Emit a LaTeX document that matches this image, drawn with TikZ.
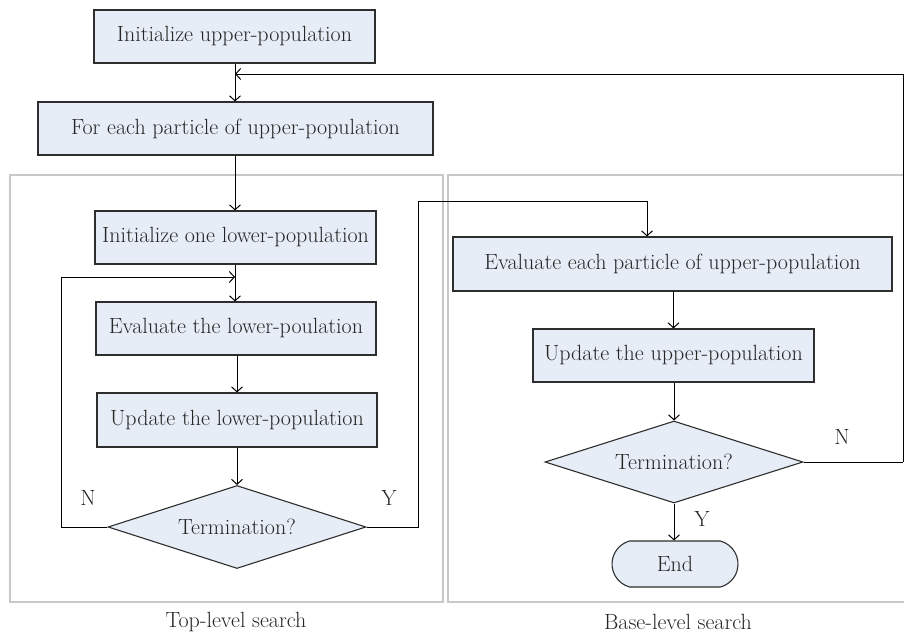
\documentclass[tikz,border=0pt]{standalone}
\usetikzlibrary{arrows.meta,shapes.geometric,shapes.misc}
\definecolor{boxfill}{HTML}{E6EDF6}
\definecolor{boxline}{HTML}{2E2E2E}
\definecolor{framegray}{HTML}{C8C8C8}
\definecolor{txt}{HTML}{262626}
\begin{document}
\begin{tikzpicture}[x=1pt,y=-1pt,
  every node/.style={font=\fontsize{22}{24}\selectfont, text=txt},
  procbox/.style={draw=boxline, fill=boxfill, line width=1.1pt, rectangle, inner sep=0pt},
  decbox/.style={draw=boxline, fill=boxfill, line width=1.1pt, diamond, aspect=3.1, inner sep=0pt},
  endbox/.style={draw=boxline, fill=boxfill, line width=1.1pt, rounded rectangle, rounded rectangle arc length=150, inner sep=0pt},
  conn/.style={draw=black, line width=1pt},
  arr/.style={conn, -{Straight Barb[length=5pt,width=11pt,line width=1pt]}},
  frame/.style={draw=framegray, line width=1.4pt},
  lbl/.style={inner sep=0pt}
]
\useasboundingbox (0,0) rectangle (904,635);
% frames
\draw[frame] (10,175) rectangle (443,602);
\draw[frame] (904,175) -- (448,175) -- (448,602) -- (904,602);
% nodes
\node[procbox, minimum width=281pt, minimum height=53pt] (b1) at (234.5,36.5) {Initialize upper-population};
\node[procbox, minimum width=395pt, minimum height=53pt] (b2) at (235.5,128.5) {For each particle of upper-population};
\node[procbox, minimum width=281pt, minimum height=53pt] (b3) at (235.5,237.5) {Initialize one lower-population};
\node[procbox, minimum width=280pt, minimum height=53pt] (b4) at (236,328.5) {Evaluate the lower-poulation};
\node[procbox, minimum width=280pt, minimum height=54pt] (b5) at (237,420) {Update the lower-population};
\node[decbox, minimum width=258pt, minimum height=83pt] (d1) at (237,527) {Termination?};
\node[procbox, minimum width=439pt, minimum height=54pt] (b6) at (672.5,264) {Evaluate each particle of upper-population};
\node[procbox, minimum width=281pt, minimum height=53pt] (b7) at (673.5,355.5) {Update the upper-population};
\node[decbox, minimum width=258pt, minimum height=82pt] (d2) at (674,462) {Termination?};
\node[endbox, minimum width=126pt, minimum height=46pt] (e) at (675,564) {End};
% helper coordinates
\coordinate (m1) at (235,74);
\coordinate (m2) at (235,277);
\coordinate (lx) at (61,527);
\coordinate (rx) at (418,527);
\coordinate (rt) at (418,201);
\coordinate (rt2) at (647,201);
\coordinate (rr) at (903,462);
\coordinate (rr2) at (903,74);
% connectors
\draw[arr] (b1.south -| m1) -- (b2.north -| m1);
\draw[arr] (rr) -- (rr2) -- (m1);
\draw[conn] (d2.east) -- (rr);
\draw[arr] (b2.south -| m1) -- (b3.north -| m1);
\draw[arr] (b3.south -| m2) -- (b4.north -| m2);
\draw[arr] (d1.west) -- (lx) -- (lx |- m2) -- (m2);
\draw[arr] (b4.south -| d1.north) -- (b5.north -| d1.north);
\draw[arr] (b5.south -| d1.north) -- (d1.north);
\draw[arr] (d1.east) -- (rx) -- (rt) -- (rt2) -- (b6.north -| rt2);
\draw[arr] (b6.south -| b7.north) -- (b7.north);
\draw[arr] (b7.south -| d2.north) -- (d2.north);
\draw[arr] (d2.south) -- (e.north -| d2.south);
% labels
\node[lbl] (nl) at (88,498) {N};
\node[lbl] (yl) at (389,498) {Y};
\node[lbl] (nr) at (842,437) {N};
\node[lbl] (yr) at (702,519) {Y};
\node[lbl] (t1) at (236,622) {Top-level search};
\node[lbl] (t2) at (678,622) {Base-level search};
\end{tikzpicture}
\end{document}
